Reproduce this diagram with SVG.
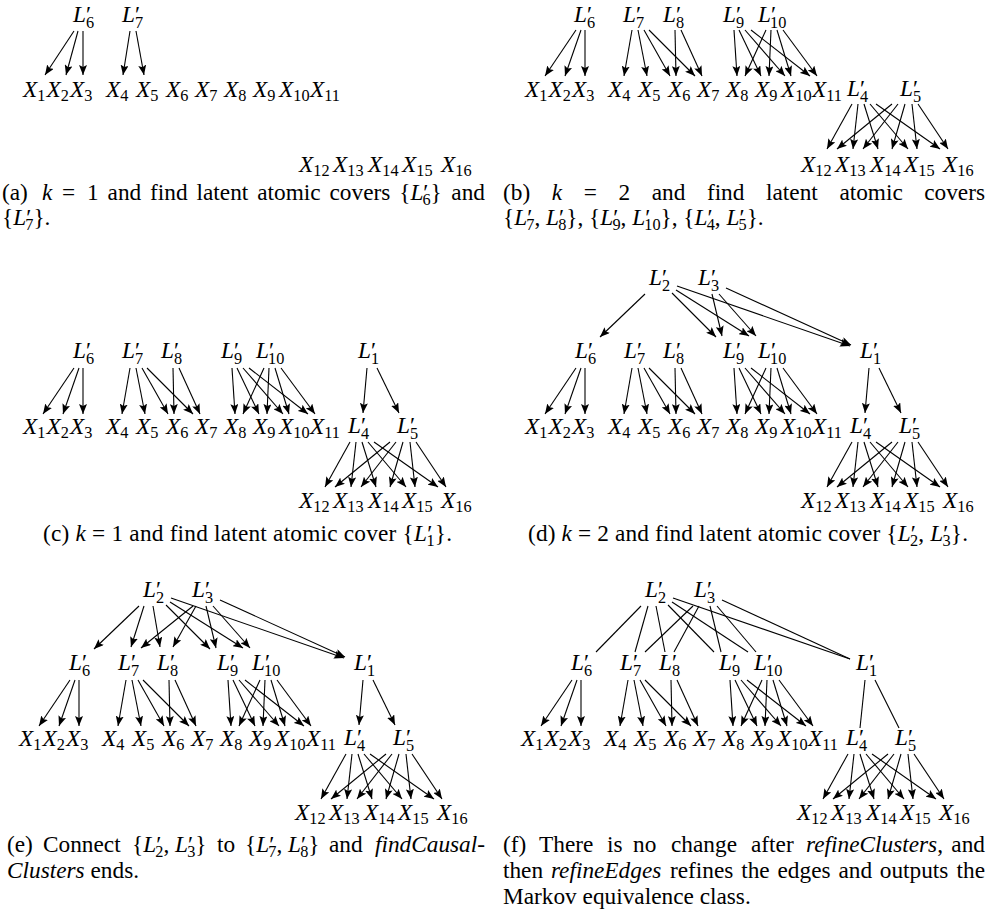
<svg xmlns="http://www.w3.org/2000/svg" xmlns:xlink="http://www.w3.org/1999/xlink" width="990" height="913" viewBox="0 0 990 913">
<style>
text { font-family: "Liberation Serif", "Times New Roman", "DejaVu Serif", serif; font-size: 23.3px; fill: #000; }
.i { font-style: italic; }
.s { font-size: 16.3px; }
.e { stroke: #000; stroke-width: 1.1; fill: none; marker-end: url(#ah); }
.u { stroke: #000; stroke-width: 1.1; fill: none; }
</style>
<defs>
<marker id="ah" viewBox="0 0 10 8" refX="10" refY="4" markerWidth="10" markerHeight="8" markerUnits="userSpaceOnUse" orient="auto">
<path d="M0,0 L10,4 L0,8 L2,4 z" fill="#000"/>
</marker>
<g id="lowerEdges">
<line x1="74" y1="368" x2="43" y2="414"/>
<line x1="79" y1="368" x2="63" y2="414"/>
<line x1="83" y1="368" x2="83" y2="414"/>
<line x1="130" y1="368" x2="122" y2="414"/>
<line x1="136" y1="368" x2="145" y2="414"/>
<line x1="142" y1="368" x2="168" y2="414"/>
<line x1="147" y1="368" x2="193" y2="414"/>
<line x1="173" y1="368" x2="174" y2="414"/>
<line x1="179" y1="368" x2="200" y2="414"/>
<line x1="232" y1="368" x2="235" y2="414"/>
<line x1="237" y1="368" x2="259" y2="414"/>
<line x1="243" y1="368" x2="283" y2="414"/>
<line x1="249" y1="368" x2="308" y2="414"/>
<line x1="264" y1="368" x2="243" y2="414"/>
<line x1="269" y1="368" x2="267" y2="414"/>
<line x1="275" y1="368" x2="289" y2="414"/>
<line x1="281" y1="368" x2="315" y2="414"/>
<line x1="350" y1="442" x2="325" y2="487"/>
<line x1="356" y1="442" x2="351" y2="487"/>
<line x1="362" y1="442" x2="376" y2="487"/>
<line x1="368" y1="442" x2="406" y2="487"/>
<line x1="374" y1="442" x2="438" y2="487"/>
<line x1="390" y1="442" x2="335" y2="487"/>
<line x1="396" y1="442" x2="361" y2="487"/>
<line x1="403" y1="442" x2="390" y2="487"/>
<line x1="410" y1="442" x2="415" y2="487"/>
<line x1="416" y1="442" x2="446" y2="487"/>
</g>
</defs>
<rect width="990" height="913" fill="#fff"/>

<!-- Panel (a) -->
<g id="panel-a">
<g id="a-L6"><text x="73" y="22"><tspan class="i">L</tspan>′<tspan class="s" x="86" dy="6">6</tspan></text></g>
<g id="a-L7"><text x="122" y="22"><tspan class="i">L</tspan>′<tspan class="s" x="135" dy="6">7</tspan></text></g>
<g id="a-X1"><text x="23" y="97"><tspan class="i">X</tspan><tspan class="s" dy="3.5">1</tspan></text></g>
<g id="a-X2"><text x="46.5" y="97"><tspan class="i">X</tspan><tspan class="s" dy="3.5">2</tspan></text></g>
<g id="a-X3"><text x="70" y="97"><tspan class="i">X</tspan><tspan class="s" dy="3.5">3</tspan></text></g>
<g id="a-X4"><text x="106" y="97"><tspan class="i">X</tspan><tspan class="s" dy="3.5">4</tspan></text></g>
<g id="a-X5"><text x="136" y="97"><tspan class="i">X</tspan><tspan class="s" dy="3.5">5</tspan></text></g>
<g id="a-X6"><text x="166" y="97"><tspan class="i">X</tspan><tspan class="s" dy="3.5">6</tspan></text></g>
<g id="a-X7"><text x="195" y="97"><tspan class="i">X</tspan><tspan class="s" dy="3.5">7</tspan></text></g>
<g id="a-X8"><text x="224" y="97"><tspan class="i">X</tspan><tspan class="s" dy="3.5">8</tspan></text></g>
<g id="a-X9"><text x="253" y="97"><tspan class="i">X</tspan><tspan class="s" dy="3.5">9</tspan></text></g>
<g id="a-X10"><text x="279" y="97"><tspan class="i">X</tspan><tspan class="s" dy="3.5">10</tspan></text></g>
<g id="a-X11"><text x="310" y="97"><tspan class="i">X</tspan><tspan class="s" dy="3.5">11</tspan></text></g>
<g id="a-X12"><text x="299" y="172"><tspan class="i">X</tspan><tspan class="s" dy="3.5">12</tspan></text></g>
<g id="a-X13"><text x="333" y="172"><tspan class="i">X</tspan><tspan class="s" dy="3.5">13</tspan></text></g>
<g id="a-X14"><text x="368" y="172"><tspan class="i">X</tspan><tspan class="s" dy="3.5">14</tspan></text></g>
<g id="a-X15"><text x="402" y="172"><tspan class="i">X</tspan><tspan class="s" dy="3.5">15</tspan></text></g>
<g id="a-X16"><text x="441" y="172"><tspan class="i">X</tspan><tspan class="s" dy="3.5">16</tspan></text></g>
<g id="a-edges" class="e">
<line x1="74" y1="31" x2="45" y2="75"/>
<line x1="78" y1="31" x2="66" y2="75"/>
<line x1="83" y1="31" x2="83" y2="75"/>
<line x1="130" y1="31" x2="123" y2="75"/>
<line x1="136" y1="31" x2="144" y2="75"/>
</g>
</g>

<!-- Panel (b) -->
<g id="panel-b" transform="translate(502,0)">
<g id="b-L6"><text x="72" y="22"><tspan class="i">L</tspan>′<tspan class="s" x="85" dy="6">6</tspan></text></g>
<g id="b-L7"><text x="121" y="22"><tspan class="i">L</tspan>′<tspan class="s" x="134" dy="6">7</tspan></text></g>
<g id="b-L8"><text x="161" y="22"><tspan class="i">L</tspan>′<tspan class="s" x="174" dy="6">8</tspan></text></g>
<g id="b-L9"><text x="221" y="22"><tspan class="i">L</tspan>′<tspan class="s" x="234" dy="6">9</tspan></text></g>
<g id="b-L10"><text x="256" y="22"><tspan class="i">L</tspan>′<tspan class="s" x="268" dy="6">10</tspan></text></g>
<g id="b-L4"><text x="345" y="96"><tspan class="i">L</tspan>′<tspan class="s" x="358" dy="6">4</tspan></text></g>
<g id="b-L5"><text x="398" y="96"><tspan class="i">L</tspan>′<tspan class="s" x="411" dy="6">5</tspan></text></g>
<g id="b-X1"><text x="23" y="97"><tspan class="i">X</tspan><tspan class="s" dy="3.5">1</tspan></text></g>
<g id="b-X2"><text x="46.5" y="97"><tspan class="i">X</tspan><tspan class="s" dy="3.5">2</tspan></text></g>
<g id="b-X3"><text x="70" y="97"><tspan class="i">X</tspan><tspan class="s" dy="3.5">3</tspan></text></g>
<g id="b-X4"><text x="106" y="97"><tspan class="i">X</tspan><tspan class="s" dy="3.5">4</tspan></text></g>
<g id="b-X5"><text x="136" y="97"><tspan class="i">X</tspan><tspan class="s" dy="3.5">5</tspan></text></g>
<g id="b-X6"><text x="166" y="97"><tspan class="i">X</tspan><tspan class="s" dy="3.5">6</tspan></text></g>
<g id="b-X7"><text x="195" y="97"><tspan class="i">X</tspan><tspan class="s" dy="3.5">7</tspan></text></g>
<g id="b-X8"><text x="224" y="97"><tspan class="i">X</tspan><tspan class="s" dy="3.5">8</tspan></text></g>
<g id="b-X9"><text x="253" y="97"><tspan class="i">X</tspan><tspan class="s" dy="3.5">9</tspan></text></g>
<g id="b-X10"><text x="279" y="97"><tspan class="i">X</tspan><tspan class="s" dy="3.5">10</tspan></text></g>
<g id="b-X11"><text x="310" y="97"><tspan class="i">X</tspan><tspan class="s" dy="3.5">11</tspan></text></g>
<g id="b-X12"><text x="299" y="172"><tspan class="i">X</tspan><tspan class="s" dy="3.5">12</tspan></text></g>
<g id="b-X13"><text x="333" y="172"><tspan class="i">X</tspan><tspan class="s" dy="3.5">13</tspan></text></g>
<g id="b-X14"><text x="368" y="172"><tspan class="i">X</tspan><tspan class="s" dy="3.5">14</tspan></text></g>
<g id="b-X15"><text x="402" y="172"><tspan class="i">X</tspan><tspan class="s" dy="3.5">15</tspan></text></g>
<g id="b-X16"><text x="441" y="172"><tspan class="i">X</tspan><tspan class="s" dy="3.5">16</tspan></text></g>
<g id="b-edges" class="e">
<use href="#lowerEdges" xlink:href="#lowerEdges" transform="translate(0,-338)"/>
</g>
</g>

<!-- Panel (c) -->
<g id="panel-c">
<g id="c-L6"><text x="73" y="358"><tspan class="i">L</tspan>′<tspan class="s" x="86" dy="6">6</tspan></text></g>
<g id="c-L7"><text x="122" y="358"><tspan class="i">L</tspan>′<tspan class="s" x="135" dy="6">7</tspan></text></g>
<g id="c-L8"><text x="161" y="358"><tspan class="i">L</tspan>′<tspan class="s" x="174" dy="6">8</tspan></text></g>
<g id="c-L9"><text x="221" y="358"><tspan class="i">L</tspan>′<tspan class="s" x="234" dy="6">9</tspan></text></g>
<g id="c-L10"><text x="256" y="358"><tspan class="i">L</tspan>′<tspan class="s" x="268" dy="6">10</tspan></text></g>
<g id="c-L1"><text x="358" y="358"><tspan class="i">L</tspan>′<tspan class="s" x="371" dy="6">1</tspan></text></g>
<g id="c-L4"><text x="348" y="433"><tspan class="i">L</tspan>′<tspan class="s" x="361" dy="6">4</tspan></text></g>
<g id="c-L5"><text x="397" y="433"><tspan class="i">L</tspan>′<tspan class="s" x="410" dy="6">5</tspan></text></g>
<g id="c-X1"><text x="23" y="434"><tspan class="i">X</tspan><tspan class="s" dy="3.5">1</tspan></text></g>
<g id="c-X2"><text x="46.5" y="434"><tspan class="i">X</tspan><tspan class="s" dy="3.5">2</tspan></text></g>
<g id="c-X3"><text x="70" y="434"><tspan class="i">X</tspan><tspan class="s" dy="3.5">3</tspan></text></g>
<g id="c-X4"><text x="106" y="434"><tspan class="i">X</tspan><tspan class="s" dy="3.5">4</tspan></text></g>
<g id="c-X5"><text x="136" y="434"><tspan class="i">X</tspan><tspan class="s" dy="3.5">5</tspan></text></g>
<g id="c-X6"><text x="166" y="434"><tspan class="i">X</tspan><tspan class="s" dy="3.5">6</tspan></text></g>
<g id="c-X7"><text x="195" y="434"><tspan class="i">X</tspan><tspan class="s" dy="3.5">7</tspan></text></g>
<g id="c-X8"><text x="224" y="434"><tspan class="i">X</tspan><tspan class="s" dy="3.5">8</tspan></text></g>
<g id="c-X9"><text x="253" y="434"><tspan class="i">X</tspan><tspan class="s" dy="3.5">9</tspan></text></g>
<g id="c-X10"><text x="279" y="434"><tspan class="i">X</tspan><tspan class="s" dy="3.5">10</tspan></text></g>
<g id="c-X11"><text x="310" y="434"><tspan class="i">X</tspan><tspan class="s" dy="3.5">11</tspan></text></g>
<g id="c-X12"><text x="299" y="508"><tspan class="i">X</tspan><tspan class="s" dy="3.5">12</tspan></text></g>
<g id="c-X13"><text x="333" y="508"><tspan class="i">X</tspan><tspan class="s" dy="3.5">13</tspan></text></g>
<g id="c-X14"><text x="368" y="508"><tspan class="i">X</tspan><tspan class="s" dy="3.5">14</tspan></text></g>
<g id="c-X15"><text x="402" y="508"><tspan class="i">X</tspan><tspan class="s" dy="3.5">15</tspan></text></g>
<g id="c-X16"><text x="441" y="508"><tspan class="i">X</tspan><tspan class="s" dy="3.5">16</tspan></text></g>
<g id="c-edges" class="e">
<use href="#lowerEdges" xlink:href="#lowerEdges"/>
<line x1="367" y1="368" x2="363" y2="413"/>
<line x1="377" y1="368" x2="399" y2="413"/>
</g>
</g>

<!-- Panel (d) -->
<g id="panel-d" transform="translate(502,0)">
<g id="d-L2"><text x="147" y="285"><tspan class="i">L</tspan>′<tspan class="s" x="160" dy="6">2</tspan></text></g>
<g id="d-L3"><text x="196" y="285"><tspan class="i">L</tspan>′<tspan class="s" x="209" dy="6">3</tspan></text></g>
<g id="d-L6"><text x="73" y="358"><tspan class="i">L</tspan>′<tspan class="s" x="86" dy="6">6</tspan></text></g>
<g id="d-L7"><text x="122" y="358"><tspan class="i">L</tspan>′<tspan class="s" x="135" dy="6">7</tspan></text></g>
<g id="d-L8"><text x="161" y="358"><tspan class="i">L</tspan>′<tspan class="s" x="174" dy="6">8</tspan></text></g>
<g id="d-L9"><text x="221" y="358"><tspan class="i">L</tspan>′<tspan class="s" x="234" dy="6">9</tspan></text></g>
<g id="d-L10"><text x="256" y="358"><tspan class="i">L</tspan>′<tspan class="s" x="268" dy="6">10</tspan></text></g>
<g id="d-L1"><text x="358" y="358"><tspan class="i">L</tspan>′<tspan class="s" x="371" dy="6">1</tspan></text></g>
<g id="d-L4"><text x="348" y="433"><tspan class="i">L</tspan>′<tspan class="s" x="361" dy="6">4</tspan></text></g>
<g id="d-L5"><text x="397" y="433"><tspan class="i">L</tspan>′<tspan class="s" x="410" dy="6">5</tspan></text></g>
<g id="d-X1"><text x="23" y="434"><tspan class="i">X</tspan><tspan class="s" dy="3.5">1</tspan></text></g>
<g id="d-X2"><text x="46.5" y="434"><tspan class="i">X</tspan><tspan class="s" dy="3.5">2</tspan></text></g>
<g id="d-X3"><text x="70" y="434"><tspan class="i">X</tspan><tspan class="s" dy="3.5">3</tspan></text></g>
<g id="d-X4"><text x="106" y="434"><tspan class="i">X</tspan><tspan class="s" dy="3.5">4</tspan></text></g>
<g id="d-X5"><text x="136" y="434"><tspan class="i">X</tspan><tspan class="s" dy="3.5">5</tspan></text></g>
<g id="d-X6"><text x="166" y="434"><tspan class="i">X</tspan><tspan class="s" dy="3.5">6</tspan></text></g>
<g id="d-X7"><text x="195" y="434"><tspan class="i">X</tspan><tspan class="s" dy="3.5">7</tspan></text></g>
<g id="d-X8"><text x="224" y="434"><tspan class="i">X</tspan><tspan class="s" dy="3.5">8</tspan></text></g>
<g id="d-X9"><text x="253" y="434"><tspan class="i">X</tspan><tspan class="s" dy="3.5">9</tspan></text></g>
<g id="d-X10"><text x="279" y="434"><tspan class="i">X</tspan><tspan class="s" dy="3.5">10</tspan></text></g>
<g id="d-X11"><text x="310" y="434"><tspan class="i">X</tspan><tspan class="s" dy="3.5">11</tspan></text></g>
<g id="d-X12"><text x="299" y="508"><tspan class="i">X</tspan><tspan class="s" dy="3.5">12</tspan></text></g>
<g id="d-X13"><text x="333" y="508"><tspan class="i">X</tspan><tspan class="s" dy="3.5">13</tspan></text></g>
<g id="d-X14"><text x="368" y="508"><tspan class="i">X</tspan><tspan class="s" dy="3.5">14</tspan></text></g>
<g id="d-X15"><text x="402" y="508"><tspan class="i">X</tspan><tspan class="s" dy="3.5">15</tspan></text></g>
<g id="d-X16"><text x="441" y="508"><tspan class="i">X</tspan><tspan class="s" dy="3.5">16</tspan></text></g>
<g id="d-edges" class="e">
<use href="#lowerEdges" xlink:href="#lowerEdges"/>
<line x1="367" y1="368" x2="363" y2="413"/>
<line x1="377" y1="368" x2="399" y2="413"/>
<line x1="143" y1="294" x2="98" y2="337"/>
<line x1="170" y1="293" x2="214" y2="337"/>
<line x1="174" y1="290" x2="247" y2="336"/>
<line x1="175" y1="286" x2="348" y2="346"/>
<line x1="210" y1="294" x2="220" y2="336"/>
<line x1="217" y1="294" x2="254" y2="336"/>
<line x1="224" y1="288" x2="349" y2="345"/>
</g>
</g>

<!-- Panel (e) -->
<g id="panel-e" transform="translate(-4,312)">
<g id="e-L2"><text x="147" y="285"><tspan class="i">L</tspan>′<tspan class="s" x="160" dy="6">2</tspan></text></g>
<g id="e-L3"><text x="196" y="285"><tspan class="i">L</tspan>′<tspan class="s" x="209" dy="6">3</tspan></text></g>
<g id="e-L6"><text x="73" y="358"><tspan class="i">L</tspan>′<tspan class="s" x="86" dy="6">6</tspan></text></g>
<g id="e-L7"><text x="122" y="358"><tspan class="i">L</tspan>′<tspan class="s" x="135" dy="6">7</tspan></text></g>
<g id="e-L8"><text x="161" y="358"><tspan class="i">L</tspan>′<tspan class="s" x="174" dy="6">8</tspan></text></g>
<g id="e-L9"><text x="221" y="358"><tspan class="i">L</tspan>′<tspan class="s" x="234" dy="6">9</tspan></text></g>
<g id="e-L10"><text x="256" y="358"><tspan class="i">L</tspan>′<tspan class="s" x="268" dy="6">10</tspan></text></g>
<g id="e-L1"><text x="358" y="358"><tspan class="i">L</tspan>′<tspan class="s" x="371" dy="6">1</tspan></text></g>
<g id="e-L4"><text x="348" y="433"><tspan class="i">L</tspan>′<tspan class="s" x="361" dy="6">4</tspan></text></g>
<g id="e-L5"><text x="397" y="433"><tspan class="i">L</tspan>′<tspan class="s" x="410" dy="6">5</tspan></text></g>
<g id="e-X1"><text x="23" y="434"><tspan class="i">X</tspan><tspan class="s" dy="3.5">1</tspan></text></g>
<g id="e-X2"><text x="46.5" y="434"><tspan class="i">X</tspan><tspan class="s" dy="3.5">2</tspan></text></g>
<g id="e-X3"><text x="70" y="434"><tspan class="i">X</tspan><tspan class="s" dy="3.5">3</tspan></text></g>
<g id="e-X4"><text x="106" y="434"><tspan class="i">X</tspan><tspan class="s" dy="3.5">4</tspan></text></g>
<g id="e-X5"><text x="136" y="434"><tspan class="i">X</tspan><tspan class="s" dy="3.5">5</tspan></text></g>
<g id="e-X6"><text x="166" y="434"><tspan class="i">X</tspan><tspan class="s" dy="3.5">6</tspan></text></g>
<g id="e-X7"><text x="195" y="434"><tspan class="i">X</tspan><tspan class="s" dy="3.5">7</tspan></text></g>
<g id="e-X8"><text x="224" y="434"><tspan class="i">X</tspan><tspan class="s" dy="3.5">8</tspan></text></g>
<g id="e-X9"><text x="253" y="434"><tspan class="i">X</tspan><tspan class="s" dy="3.5">9</tspan></text></g>
<g id="e-X10"><text x="279" y="434"><tspan class="i">X</tspan><tspan class="s" dy="3.5">10</tspan></text></g>
<g id="e-X11"><text x="310" y="434"><tspan class="i">X</tspan><tspan class="s" dy="3.5">11</tspan></text></g>
<g id="e-X12"><text x="299" y="508"><tspan class="i">X</tspan><tspan class="s" dy="3.5">12</tspan></text></g>
<g id="e-X13"><text x="333" y="508"><tspan class="i">X</tspan><tspan class="s" dy="3.5">13</tspan></text></g>
<g id="e-X14"><text x="368" y="508"><tspan class="i">X</tspan><tspan class="s" dy="3.5">14</tspan></text></g>
<g id="e-X15"><text x="402" y="508"><tspan class="i">X</tspan><tspan class="s" dy="3.5">15</tspan></text></g>
<g id="e-X16"><text x="441" y="508"><tspan class="i">X</tspan><tspan class="s" dy="3.5">16</tspan></text></g>
<g id="e-edges" class="e">
<use href="#lowerEdges" xlink:href="#lowerEdges"/>
<line x1="367" y1="368" x2="363" y2="413"/>
<line x1="377" y1="368" x2="399" y2="413"/>
<line x1="143" y1="294" x2="98" y2="337"/>
<line x1="148" y1="294" x2="135" y2="335"/>
<line x1="157" y1="294" x2="164" y2="335"/>
<line x1="170" y1="293" x2="214" y2="337"/>
<line x1="174" y1="290" x2="247" y2="336"/>
<line x1="175" y1="286" x2="348" y2="346"/>
<line x1="197" y1="294" x2="145" y2="336"/>
<line x1="200" y1="294" x2="177" y2="335"/>
<line x1="210" y1="294" x2="220" y2="336"/>
<line x1="217" y1="294" x2="254" y2="336"/>
<line x1="224" y1="288" x2="349" y2="345"/>
</g>
</g>

<!-- Panel (f) -->
<g id="panel-f" transform="translate(498,312)">
<g id="f-L2"><text x="147" y="285"><tspan class="i">L</tspan>′<tspan class="s" x="160" dy="6">2</tspan></text></g>
<g id="f-L3"><text x="196" y="285"><tspan class="i">L</tspan>′<tspan class="s" x="209" dy="6">3</tspan></text></g>
<g id="f-L6"><text x="73" y="358"><tspan class="i">L</tspan>′<tspan class="s" x="86" dy="6">6</tspan></text></g>
<g id="f-L7"><text x="122" y="358"><tspan class="i">L</tspan>′<tspan class="s" x="135" dy="6">7</tspan></text></g>
<g id="f-L8"><text x="161" y="358"><tspan class="i">L</tspan>′<tspan class="s" x="174" dy="6">8</tspan></text></g>
<g id="f-L9"><text x="221" y="358"><tspan class="i">L</tspan>′<tspan class="s" x="234" dy="6">9</tspan></text></g>
<g id="f-L10"><text x="256" y="358"><tspan class="i">L</tspan>′<tspan class="s" x="268" dy="6">10</tspan></text></g>
<g id="f-L1"><text x="358" y="358"><tspan class="i">L</tspan>′<tspan class="s" x="371" dy="6">1</tspan></text></g>
<g id="f-L4"><text x="348" y="433"><tspan class="i">L</tspan>′<tspan class="s" x="361" dy="6">4</tspan></text></g>
<g id="f-L5"><text x="397" y="433"><tspan class="i">L</tspan>′<tspan class="s" x="410" dy="6">5</tspan></text></g>
<g id="f-X1"><text x="23" y="434"><tspan class="i">X</tspan><tspan class="s" dy="3.5">1</tspan></text></g>
<g id="f-X2"><text x="46.5" y="434"><tspan class="i">X</tspan><tspan class="s" dy="3.5">2</tspan></text></g>
<g id="f-X3"><text x="70" y="434"><tspan class="i">X</tspan><tspan class="s" dy="3.5">3</tspan></text></g>
<g id="f-X4"><text x="106" y="434"><tspan class="i">X</tspan><tspan class="s" dy="3.5">4</tspan></text></g>
<g id="f-X5"><text x="136" y="434"><tspan class="i">X</tspan><tspan class="s" dy="3.5">5</tspan></text></g>
<g id="f-X6"><text x="166" y="434"><tspan class="i">X</tspan><tspan class="s" dy="3.5">6</tspan></text></g>
<g id="f-X7"><text x="195" y="434"><tspan class="i">X</tspan><tspan class="s" dy="3.5">7</tspan></text></g>
<g id="f-X8"><text x="224" y="434"><tspan class="i">X</tspan><tspan class="s" dy="3.5">8</tspan></text></g>
<g id="f-X9"><text x="253" y="434"><tspan class="i">X</tspan><tspan class="s" dy="3.5">9</tspan></text></g>
<g id="f-X10"><text x="279" y="434"><tspan class="i">X</tspan><tspan class="s" dy="3.5">10</tspan></text></g>
<g id="f-X11"><text x="310" y="434"><tspan class="i">X</tspan><tspan class="s" dy="3.5">11</tspan></text></g>
<g id="f-X12"><text x="299" y="508"><tspan class="i">X</tspan><tspan class="s" dy="3.5">12</tspan></text></g>
<g id="f-X13"><text x="333" y="508"><tspan class="i">X</tspan><tspan class="s" dy="3.5">13</tspan></text></g>
<g id="f-X14"><text x="368" y="508"><tspan class="i">X</tspan><tspan class="s" dy="3.5">14</tspan></text></g>
<g id="f-X15"><text x="402" y="508"><tspan class="i">X</tspan><tspan class="s" dy="3.5">15</tspan></text></g>
<g id="f-X16"><text x="441" y="508"><tspan class="i">X</tspan><tspan class="s" dy="3.5">16</tspan></text></g>
<g id="f-edges">
<g class="e"><use href="#lowerEdges" xlink:href="#lowerEdges"/></g>
<g class="u">
<line x1="367" y1="368" x2="362" y2="416"/>
<line x1="377" y1="368" x2="401" y2="416"/>
<line x1="143" y1="294" x2="98" y2="340"/>
<line x1="150" y1="294" x2="137" y2="340"/>
<line x1="158" y1="294" x2="167" y2="340"/>
<line x1="170" y1="293" x2="216" y2="340"/>
<line x1="174" y1="290" x2="250" y2="340"/>
<line x1="175" y1="286" x2="352" y2="347"/>
<line x1="195" y1="294" x2="147" y2="340"/>
<line x1="201" y1="294" x2="176" y2="340"/>
<line x1="212" y1="294" x2="223" y2="340"/>
<line x1="219" y1="294" x2="258" y2="340"/>
<line x1="224" y1="288" x2="352" y2="347"/>
</g>
</g>
</g>

<!-- Captions -->
<g id="captions">
<text y="200"><tspan x="2">(a)</tspan><tspan x="42" class="i">k</tspan><tspan x="62">=</tspan><tspan x="87">1</tspan><tspan x="107.6">and</tspan><tspan x="150.1">find</tspan><tspan x="196.5">latent</tspan><tspan x="257.2">atomic</tspan><tspan x="329.5">covers</tspan><tspan x="399.2">{</tspan><tspan class="i">L</tspan>′<tspan class="s" dx="-6" dy="5">6</tspan><tspan dy="-5">}</tspan></text>
<text x="485" y="200" text-anchor="end">and</text>
<text x="2" y="225">{<tspan class="i">L</tspan>′<tspan class="s" dx="-6" dy="5">7</tspan><tspan dy="-5">}.</tspan></text>
<text y="200"><tspan x="503">(b)</tspan><tspan x="551.8" class="i">k</tspan><tspan x="583.7">=</tspan><tspan x="618.4">2</tspan><tspan x="651.7">and</tspan><tspan x="706.9">find</tspan><tspan x="766">latent</tspan><tspan x="839.4">atomic</tspan></text>
<text x="985" y="200" text-anchor="end">covers</text>
<text x="503" y="225">{<tspan class="i">L</tspan>′<tspan class="s" dx="-6" dy="5">7</tspan><tspan dy="-5">, </tspan><tspan class="i">L</tspan>′<tspan class="s" dx="-6" dy="5">8</tspan><tspan dy="-5">}, {</tspan><tspan class="i">L</tspan>′<tspan class="s" dx="-6" dy="5">9</tspan><tspan dy="-5">, </tspan><tspan class="i">L</tspan>′<tspan class="s" dx="-6" dy="5">10</tspan><tspan dy="-5">}, {</tspan><tspan class="i">L</tspan>′<tspan class="s" dx="-6" dy="5">4</tspan><tspan dy="-5">, </tspan><tspan class="i">L</tspan>′<tspan class="s" dx="-6" dy="5">5</tspan><tspan dy="-5">}.</tspan></text>
<text x="43" y="541" textLength="409" lengthAdjust="spacing">(c) <tspan class="i">k</tspan> = 1 and find latent atomic cover {<tspan class="i">L</tspan>′<tspan class="s" dx="-6" dy="5">1</tspan><tspan dy="-5">}.</tspan></text>
<text x="528" y="541" textLength="440" lengthAdjust="spacing">(d) <tspan class="i">k</tspan> = 2 and find latent atomic cover {<tspan class="i">L</tspan>′<tspan class="s" dx="-6" dy="5">2</tspan><tspan dy="-5">, </tspan><tspan class="i">L</tspan>′<tspan class="s" dx="-6" dy="5">3</tspan><tspan dy="-5">}.</tspan></text>
<text y="852"><tspan x="7">(e)</tspan><tspan x="43">Connect</tspan><tspan x="132">{</tspan><tspan class="i">L</tspan>′<tspan class="s" dx="-6" dy="5">2</tspan><tspan dy="-5">, </tspan><tspan class="i">L</tspan>′<tspan class="s" dx="-6" dy="5">3</tspan><tspan dy="-5">}</tspan><tspan x="217">to</tspan><tspan x="245">{</tspan><tspan class="i">L</tspan>′<tspan class="s" dx="-6" dy="5">7</tspan><tspan dy="-5">, </tspan><tspan class="i">L</tspan>′<tspan class="s" dx="-6" dy="5">8</tspan><tspan dy="-5">}</tspan><tspan x="329">and</tspan></text>
<text x="485" y="852" text-anchor="end" class="i">findCausal-</text>
<text x="7" y="878"><tspan class="i">Clusters</tspan> ends.</text>
<text y="852"><tspan x="503">(f)</tspan><tspan x="539">There</tspan><tspan x="607">is</tspan><tspan x="633">no</tspan><tspan x="671">change</tspan><tspan x="751">after</tspan><tspan x="806" class="i">refineClusters</tspan>,</text>
<text x="985" y="852" text-anchor="end">and</text>
<text y="878"><tspan x="503">then</tspan><tspan x="550.9" class="i">refineEdges</tspan><tspan x="670">refines</tspan><tspan x="741.2">the</tspan><tspan x="777.5">edges</tspan><tspan x="838.4">and</tspan><tspan x="879.8">outputs</tspan></text>
<text x="985" y="878" text-anchor="end">the</text>
<text x="503" y="904">Markov equivalence class.</text>
</g>
</svg>
